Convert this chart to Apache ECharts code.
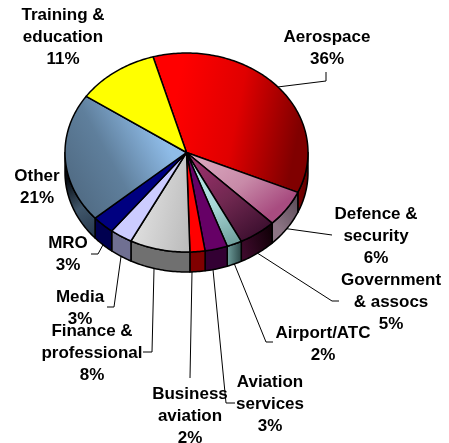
<!DOCTYPE html>
<html>
<head>
<meta charset="utf-8">
<style>
  html, body { margin: 0; padding: 0; background: #fff; }
  #chart { width: 449px; height: 443px; }
</style>
<script src="https://cdn.jsdelivr.net/npm/echarts@6/dist/echarts.min.js"></script>
</head>
<body>
<div id="chart"></div>
<script>
// Sector shares, clockwise from Aerospace
const categories = [
  'Aerospace', 'Defence &\nsecurity', 'Government\n& assocs', 'Airport/ATC',
  'Aviation\nservices', 'Business\naviation', 'Finance &\nprofessional',
  'Media', 'MRO', 'Other', 'Training &\neducation'
];
const shares = [36, 6, 5, 2, 3, 2, 8, 3, 3, 21, 11];

// Tilted disc geometry, in pixels and degrees clockwise from north
const disc = { cx: 186.5, cy: 152.5, rx: 121.5, ry: 99.5, depth: 20, start: -16 };

const g = (x, y, x2, y2, ...colors) => ({
  type: 'linear', global: true, x, y, x2, y2,
  colorStops: colors.map((c, i) => ({ offset: i / (colors.length - 1), color: c }))
});

// Lit top faces
const topFills = [
  g(175, 100, 300, 125, '#ff0000', '#e00000', '#800000'),
  g(205, 160, 255, 225, '#d8a4bc', '#c88aa8', '#a84c80'),
  g(195, 165, 250, 240, '#98306a', '#702850', '#3e1030'),
  g(195, 165, 232, 245, '#b4e6e6', '#a8d8d8', '#6f9f9c'),
  '#660066',
  '#ff0000',
  g(120, 220, 190, 235, '#e8e8e8', '#bcbcbc'),
  '#ccccff',
  '#000080',
  g(70, 205, 170, 150, '#4e6880', '#5f7f9c', '#8fbce8'),
  '#ffff00'
];

// Shaded rim faces
const rimFills = [
  g(296, 170, 308, 170, '#800000', '#600000'),
  g(272, 220, 297, 200, '#8c7484', '#5e4e5a'),
  g(240, 245, 272, 235, '#3e0a2c', '#120008'),
  g(226, 250, 242, 250, '#74a4a2', '#2a4646'),
  '#330033',
  '#800000',
  '#707070',
  '#707092',
  '#000050',
  g(65, 180, 98, 235, '#05090f', '#40566a', '#26384c'),
  '#ffff00'
];

// Label centres (middle line) and the leader-line bends that follow the rim
const labelPlaces = [
  [327, 48], [376, 236], [391, 302], [323, 344], [270, 404], [190, 416],
  [92, 353], [80, 308], [68, 254], [37, 187], [63, 37]
];
const leaderBends = [
  [[326, 81], [326, 72]],
  [[332, 235]],
  [[332, 301], [339, 301]],
  [[266, 342], [273, 342]],
  [[226, 403], [235, 403]],
  [[190, 378]],
  [[152, 352], [143, 352]],
  [[114, 307], [107, 307]],
  [[98, 254], [91, 254]],
  null,
  null
];
// Small shifts, in degrees, of where a leader leaves the rim
const leaderShift = [0, 0, 0, 0, 1.6, 2.6, 2.7, 0, 0, 0, 0];

const total = shares.reduce((a, b) => a + b, 0);
const rad = d => d * Math.PI / 180;
const rimPoint = (deg, drop) => [
  disc.cx + disc.rx * Math.sin(rad(deg)),
  disc.cy - disc.ry * Math.cos(rad(deg)) + drop
];
const arc = (from, to, drop) => {
  const n = Math.max(2, Math.ceil(Math.abs(to - from)));
  const pts = [];
  for (let i = 0; i <= n; i++) pts.push(rimPoint(from + (to - from) * i / n, drop));
  return pts;
};
const sliceStart = i => disc.start + 360 * shares.slice(0, i).reduce((a, b) => a + b, 0) / total;

function renderSlice(params, api) {
  const i = api.value(0);
  const a0 = sliceStart(i);
  const a1 = a0 + 360 * api.value(1) / total;
  const edge = { stroke: '#000', lineWidth: 1.5, lineJoin: 'round' };
  const children = [];

  // Rim only shows on the near half of the disc
  const r0 = Math.max(a0, 90);
  const r1 = Math.min(a1, 270);
  if (r1 > r0) {
    children.push({
      type: 'polygon', z2: 1,
      shape: { points: arc(r0, r1, 0).concat(arc(r1, r0, disc.depth)) },
      style: Object.assign({ fill: rimFills[i] }, edge)
    });
  }

  children.push({
    type: 'polygon', z2: 2,
    shape: { points: [[disc.cx, disc.cy]].concat(arc(a0, a1, 0)) },
    style: Object.assign({ fill: topFills[i] }, edge)
  });

  // Leader runs from the outer edge at the slice's mid angle
  if (leaderBends[i]) {
    const mid = (a0 + a1) / 2 + leaderShift[i];
    const front = Math.cos(rad(mid)) < 0;
    children.push({
      type: 'polyline', z2: 3,
      shape: { points: [rimPoint(mid, front ? disc.depth : 0)].concat(leaderBends[i]) },
      style: { fill: null, stroke: '#000', lineWidth: 1 }
    });
  }

  children.push({
    type: 'text', z2: 4,
    style: {
      text: categories[i] + '\n' + api.value(1) + '%',
      x: labelPlaces[i][0], y: labelPlaces[i][1],
      align: 'center', verticalAlign: 'middle',
      font: 'bold 17px "Liberation Sans", Arial, sans-serif',
      lineHeight: 22, fill: '#000'
    }
  });

  return { type: 'group', children };
}

const chart = echarts.init(document.getElementById('chart'), null, { renderer: 'canvas' });
chart.setOption({
  animation: false,
  backgroundColor: '#fff',
  series: [{
    type: 'custom',
    coordinateSystem: 'none',
    silent: true,
    clip: false,
    renderItem: renderSlice,
    data: shares.map((v, i) => [i, v])
  }]
});
</script>
</body>
</html>
